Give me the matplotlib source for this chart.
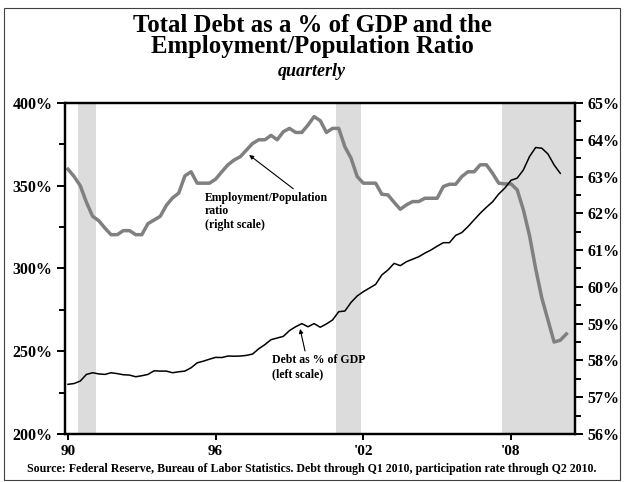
import numpy as np
import matplotlib
matplotlib.use('Agg')
import matplotlib.pyplot as plt
from matplotlib.patches import Rectangle

plt.rcParams['font.family'] = 'Liberation Serif'
plt.rcParams['font.weight'] = 'bold'

# quarterly data, 1990 Q1 onwards
epop = [63.2, 63.0, 62.75, 62.3, 61.92, 61.8, 61.6, 61.42, 61.42, 61.53,
        61.53, 61.42, 61.42, 61.72, 61.82, 61.92, 62.22, 62.42, 62.55, 63.02,
        63.13, 62.82, 62.82, 62.82, 62.93, 63.13, 63.32, 63.45, 63.54, 63.72,
        63.9, 64.0, 64.0, 64.12, 64.0, 64.22, 64.31, 64.2, 64.2, 64.4,
        64.63, 64.52, 64.2, 64.31, 64.31, 63.81, 63.5, 63.0, 62.82, 62.82,
        62.82, 62.52, 62.5, 62.3, 62.11, 62.23, 62.32, 62.32, 62.41, 62.41,
        62.41, 62.73, 62.79, 62.79, 63.0, 63.13, 63.13, 63.32, 63.32, 63.09,
        62.82, 62.8, 62.8, 62.64, 62.1, 61.4, 60.5, 59.7, 59.1, 58.5,
        58.55, 58.72]
debt = [230.0, 230.5, 232.0, 236.0, 237.0, 236.3, 236.0, 237.0, 236.5, 235.8,
        235.6, 234.6, 235.2, 236.0, 238.2, 238.0, 238.0, 237.0, 237.6, 238.0,
        240.0, 243.0, 244.0, 245.2, 246.3, 246.2, 247.1, 247.0, 247.1, 247.5,
        248.3, 251.5, 254.0, 257.0, 258.0, 259.0, 262.5, 264.8, 266.7, 264.8,
        266.7, 264.5, 266.5, 268.9, 273.9, 274.3, 279.5, 283.4, 286.0, 288.2,
        290.4, 296.1, 299.1, 303.1, 301.7, 304.1, 305.6, 307.1, 309.3, 311.2,
        313.5, 315.6, 315.6, 320.0, 321.7, 325.3, 329.4, 333.4, 337.0, 340.3,
        345.0, 348.6, 353.3, 354.6, 359.5, 367.6, 373.1, 372.7, 369.2, 362.6,
        357.5]
t_epop = 1990 + np.arange(len(epop)) / 4
t_debt = 1990 + np.arange(len(debt)) / 4

recessions = [(1990.4, 1991.15), (2000.87, 2001.92), (2007.65, 2011)]
xticks = [1990, 1996, 2002, 2008]
xlabels = ['90', '96', "'02", "'08"]

fig = plt.figure(figsize=(6.24, 4.82), dpi=100)
ax1 = fig.add_axes([0.1042, 0.0996, 0.8173, 0.6867])
ax2 = ax1.twinx()

# gray line + shading on the right axis, kept underneath the debt line
ax1.set_zorder(ax2.get_zorder() + 1)
ax1.patch.set_visible(False)

for a, b in recessions:
    ax2.axvspan(a, b, color='#dcdcdc', lw=0, zorder=0)
ax2.plot(t_epop, epop, color='#808080', lw=2.5, zorder=2)
ax1.plot(t_debt, debt, color='black', lw=1.1, zorder=3)

ax1.set_xlim(1989.88, 2010.6)
ax1.set_ylim(200, 400)
ax2.set_ylim(56, 65)

ax1.set_yticks([200, 250, 300, 350, 400])
ax1.set_yticklabels(['200%', '250%', '300%', '350%', '400%'])
ax1.set_yticks([225, 275, 325, 375], minor=True)
ax2.set_yticks(range(56, 66))
ax2.set_yticklabels([f'{v}%' for v in range(56, 66)])
ax2.set_yticks(np.arange(56.5, 65, 1), minor=True)
ax1.set_xticks(xticks)
ax1.set_xticklabels(xlabels)

for a in (ax1, ax2):
    for s in a.spines.values():
        s.set_linewidth(1.6)
    a.tick_params(which='major', length=6, width=1.4, labelsize=11.5, direction='out')
    a.tick_params(which='minor', length=4, width=1.4, direction='out')
ax1.tick_params(axis='x', length=4, pad=4, labelsize=11)
ax1.tick_params(axis='y', pad=3)
ax2.tick_params(axis='y', pad=3)

ax1.annotate('Employment/Population\nratio\n(right scale)', xy=(1997.36, 368.6),
             xytext=(1995.55, 346.5), fontsize=8.5, ha='left', va='top',
             linespacing=1.2,
             arrowprops=dict(arrowstyle='-|>', color='black', lw=0.8,
                             shrinkA=0, shrinkB=0, mutation_scale=6,
                             relpos=(0.75, 1.0)))
ax1.annotate('Debt as % of GDP\n(left scale)', xy=(1999.43, 263.5),
             xytext=(1998.29, 248.5), fontsize=8.5, ha='left', va='top',
             linespacing=1.3,
             arrowprops=dict(arrowstyle='-|>', color='black', lw=0.8,
                             shrinkA=0, shrinkB=0, mutation_scale=6,
                             relpos=(0.36, 1.0)))

fig.text(0.5, 0.9336, 'Total Debt as a % of GDP and the', ha='center',
         va='baseline', fontsize=17.8)
fig.text(0.5, 0.890, 'Employment/Population Ratio', ha='center',
         va='baseline', fontsize=17.8)
fig.text(0.5, 0.843, 'quarterly', ha='center', va='baseline', fontsize=13,
         style='italic')
fig.text(0.5, 0.026, 'Source: Federal Reserve, Bureau of Labor Statistics. '
         'Debt through Q1 2010, participation rate through Q2 2010.',
         ha='center', va='center', fontsize=8.6)

fig.patches.append(Rectangle((0.007, 0.004), 0.986, 0.979, transform=fig.transFigure,
                             fill=False, edgecolor='#404040', lw=0.8))

fig.savefig('out.png', dpi=100)
